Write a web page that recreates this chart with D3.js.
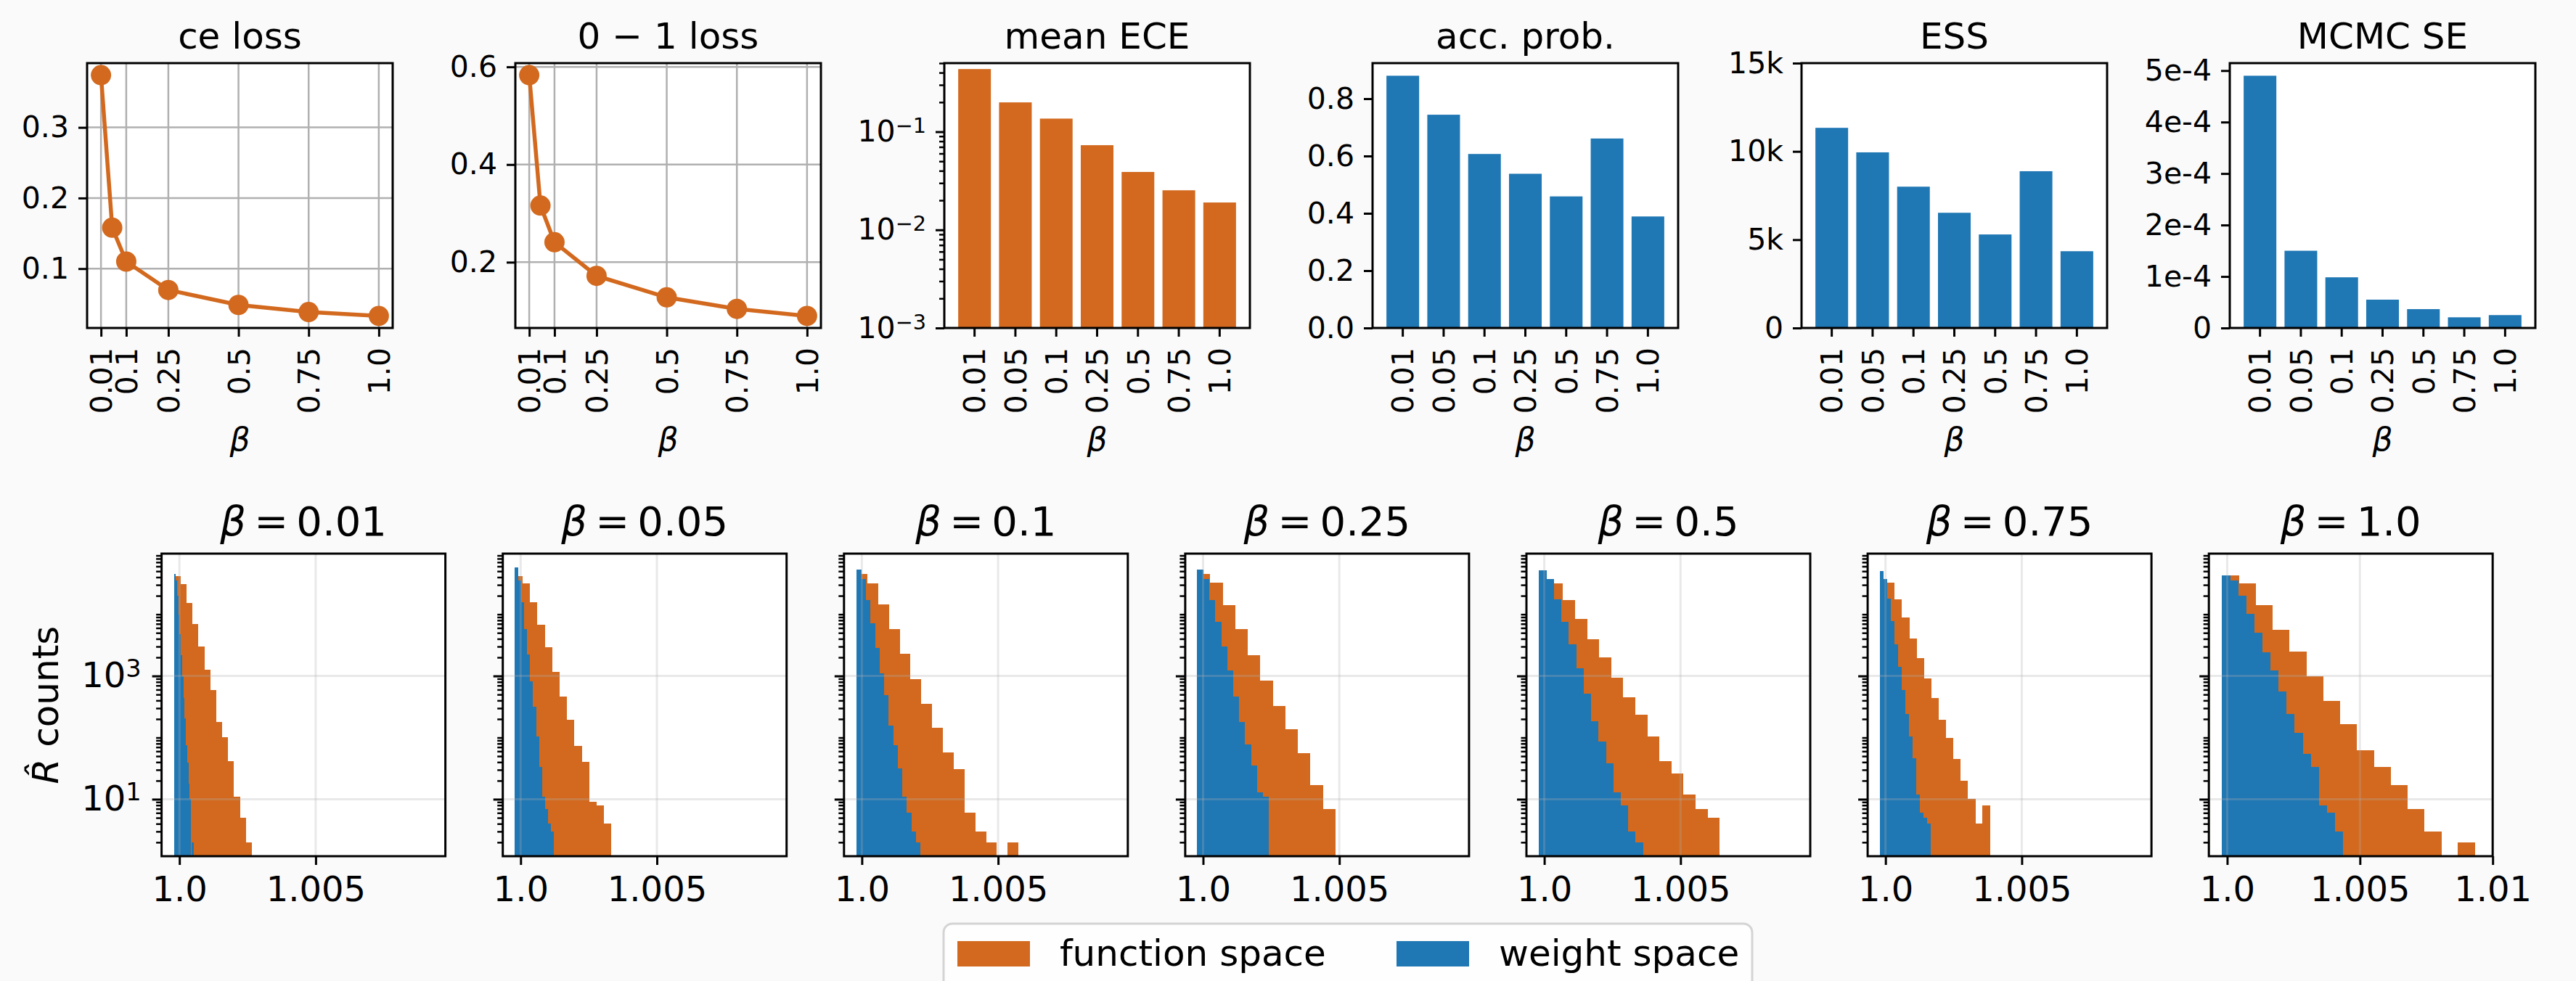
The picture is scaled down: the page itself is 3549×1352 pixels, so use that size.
<!DOCTYPE html>
<html>
<head>
<meta charset="utf-8">
<script src="https://cdn.jsdelivr.net/npm/d3@7"></script>
<style>
  body { margin: 0; background: #fafafa; }
  text { font-family: "DejaVu Sans", sans-serif; fill: #000; }
</style>
</head>
<body>
<div id="chart"></div>
<script>
// beta values
var betaLabels = ["0.01", "0.05", "0.1", "0.25", "0.5", "0.75", "1.0"];
var betaValues = [0.01, 0.05, 0.1, 0.25, 0.5, 0.75, 1.0];
var lineTickValues = [0.01, 0.1, 0.25, 0.5, 0.75, 1.0];
var lineTickLabels = ["0.01", "0.1", "0.25", "0.5", "0.75", "1.0"];

// top row metrics
var ceLoss = [0.374, 0.158, 0.110, 0.0697, 0.0486, 0.0385, 0.033];
var zeroOneLoss = [0.583, 0.316, 0.241, 0.172, 0.128, 0.1045, 0.090];
var meanECE = [0.435, 0.199, 0.136, 0.0729, 0.0389, 0.0253, 0.019];
var accProb = [0.880, 0.744, 0.607, 0.538, 0.459, 0.661, 0.389];
var ess = [11335, 9947, 8003, 6524, 5296, 8878, 4347];
var mcmcSE = [4.90e-4, 1.50e-4, 0.984e-4, 0.55e-4, 0.366e-4, 0.207e-4, 0.25e-4];

var essTicks = [0, 5000, 10000, 15000];
var essTickLabels = ["0", "5k", "10k", "15k"];
var seTicks = [0, 1e-4, 2e-4, 3e-4, 4e-4, 5e-4];
var seTickLabels = ["0", "1e-4", "2e-4", "3e-4", "4e-4", "5e-4"];

// R-hat histograms: first/last bin edge and counts of equal-width bins
var fsRange = [[0.999813, 1.002645], [0.999786, 1.003318], [0.999794, 1.005734], [0.999786, 1.004847],
               [0.999792, 1.006422], [0.999786, 1.003823], [0.999794, 1.009325]];
var fsCounts = [
  [41300, 30600, 15100, 6900, 2980, 1250, 588, 178, 101, 42, 11, 5, 2],
  [41300, 31500, 15600, 6720, 2900, 1155, 460, 193, 73, 40, 9, 8, 4],
  [44800, 31500, 14400, 5710, 2280, 881, 351, 144, 57, 31, 6, 3, 2, 0, 2],
  [44800, 32400, 13970, 5710, 2150, 835, 324, 136, 56, 17, 7],
  [35000, 31500, 16900, 8350, 3910, 1990, 931, 448, 234, 104, 41, 26, 12, 7, 5],
  [35000, 32400, 17300, 8810, 4020, 1930, 906, 436, 193, 98, 45, 20, 10, 4, 8],
  [42800, 32000, 14200, 5640, 2510, 1000, 390, 163, 63, 33, 17, 7, 3, 0, 2]
];
var wsRange = [[0.999801, 1.000505], [0.999786, 1.001208], [0.999801, 1.002141], [0.999786, 1.0024],
               [0.999801, 1.003609], [0.999786, 1.001651], [0.999794, 1.004353]];
var wsCounts = [
  [44800, 35700, 19900, 9800, 4810, 2150, 991, 440, 204, 75, 39, 18, 10, 1, 2],
  [57100, 35700, 15600, 5710, 2210, 813, 315, 104, 33, 11, 7, 4, 3],
  [52700, 37000, 16900, 7100, 2820, 1095, 486, 156, 75, 32, 11, 6, 3, 2],
  [52700, 37000, 16900, 7500, 2980, 1220, 460, 178, 77, 35, 13, 11],
  [51300, 37000, 17300, 7500, 3240, 1323, 513, 183, 86, 38, 13, 8, 3, 2],
  [49900, 37000, 17800, 7690, 3240, 1396, 588, 240, 104, 46, 12, 6, 5, 4],
  [42800, 35600, 20100, 10200, 5020, 2390, 1217, 554, 240, 120, 55, 33, 8, 6, 3]
];
var histXLim = [[0.999345, 1.00976], [0.999345, 1.00976], [0.999345, 1.00976], [0.999345, 1.00976],
                [0.999345, 1.00976], [0.999345, 1.00976], [0.99931, 1.0100]];
var histXTicks = [[1.0, 1.005], [1.0, 1.005], [1.0, 1.005], [1.0, 1.005], [1.0, 1.005], [1.0, 1.005], [1.0, 1.005, 1.01]];
var histXTickLabels = ["1.0", "1.005", "1.01"];
var histYLim = [1.19, 96400];

var W = 3549, H = 1352;
var orange = "#d2691e", blue = "#1f77b4";
var tickFont = 41, histFont = 48;

var svg = d3.select("#chart").append("svg").attr("width", W).attr("height", H);
svg.append("rect").attr("width", W).attr("height", H).attr("fill", "#fafafa");

// layout
var topW = 421, topH = 365, topY = 87;
var topX = [120, 710, 1301, 1891, 2482, 3072];
var botW = 391, botH = 417, botY = 763;
var botX = [222.6, 692.7, 1162.8, 1632.9, 2103, 2573.1, 3043.2];

function padded(ext) {
  var m = (ext[1] - ext[0]) * 0.05;
  return [ext[0] - m, ext[1] + m];
}

function styleAxis(ax, size, width) {
  ax.select(".domain").remove();
  ax.selectAll(".tick line").attr("stroke", "#000").attr("stroke-width", width || 3);
  ax.selectAll(".tick text").attr("font-size", size).attr("fill", "#000")
    .style("font-family", '"DejaVu Sans"');
}

function panel(x, y, w, h) {
  var g = svg.append("g").attr("transform", "translate(" + x + "," + y + ")");
  g.append("rect").attr("width", w).attr("height", h).attr("fill", "#fff");
  return g;
}

function frame(g, w, h) {
  g.append("rect").attr("width", w).attr("height", h).attr("fill", "none")
    .attr("stroke", "#000").attr("stroke-width", 3);
}

function topDecor(g, title) {
  g.append("text").attr("x", topW / 2).attr("y", -20).attr("text-anchor", "middle")
    .attr("font-size", 50).text(title);
  g.append("text").attr("x", topW / 2).attr("y", 621 - topY).attr("text-anchor", "middle")
    .attr("font-size", 44).attr("font-style", "italic").text("β");
}

function rotateXLabels(ax) {
  ax.selectAll(".tick text")
    .attr("y", null).attr("x", -27).attr("dy", "0.36em")
    .attr("transform", "rotate(-90)").attr("text-anchor", "end");
}

function superLabels(ax, base) {
  ax.selectAll(".tick text").each(function(d) {
    var e = Math.round(Math.log10(d));
    var t = d3.select(this).text(base);
    t.append("tspan").attr("dy", "-0.42em").attr("font-size", "0.7em")
      .text(e < 0 ? "\u2212" + (-e) : e);
  });
}

// line panels
function linePanel(i, title, values, yTicks) {
  var g = panel(topX[i], topY, topW, topH);
  var x = d3.scaleLinear().domain(padded(d3.extent(betaValues))).range([0, topW]);
  var y = d3.scaleLinear().domain(padded(d3.extent(values))).range([topH, 0]);

  g.append("g").selectAll("line").data(lineTickValues).enter().append("line")
    .attr("x1", function(d) { return x(d); }).attr("x2", function(d) { return x(d); })
    .attr("y1", 0).attr("y2", topH)
    .attr("stroke", "#b0b0b0").attr("stroke-width", 2.5);
  g.append("g").selectAll("line").data(yTicks).enter().append("line")
    .attr("y1", function(d) { return y(d); }).attr("y2", function(d) { return y(d); })
    .attr("x1", 0).attr("x2", topW)
    .attr("stroke", "#b0b0b0").attr("stroke-width", 2.5);

  var line = d3.line()
    .x(function(d, j) { return x(betaValues[j]); })
    .y(function(d) { return y(d); });
  g.append("path").datum(values).attr("d", line)
    .attr("fill", "none").attr("stroke", orange).attr("stroke-width", 5.5);
  g.selectAll("circle").data(values).enter().append("circle")
    .attr("cx", function(d, j) { return x(betaValues[j]); })
    .attr("cy", function(d) { return y(d); })
    .attr("r", 14).attr("fill", orange);

  var ay = g.append("g").call(d3.axisLeft(y).tickValues(yTicks).tickSize(12).tickPadding(13)
    .tickFormat(d3.format(".1f")));
  styleAxis(ay, tickFont);
  var ax = g.append("g").attr("transform", "translate(0," + topH + ")")
    .call(d3.axisBottom(x).tickValues(lineTickValues).tickSize(12)
      .tickFormat(function(d, j) { return lineTickLabels[j]; }));
  styleAxis(ax, tickFont);
  rotateXLabels(ax);
  frame(g, topW, topH);
  topDecor(g, title);
  return g;
}

// bar panels
function barPanel(i, title, values, color, y) {
  var g = panel(topX[i], topY, topW, topH);
  var x = d3.scaleBand().domain(betaLabels).range([0, topW]).paddingInner(0.2).paddingOuter(0.34);
  g.selectAll("rect.bar").data(values).enter().append("rect")
    .attr("class", "bar")
    .attr("x", function(d, j) { return x(betaLabels[j]); })
    .attr("width", x.bandwidth())
    .attr("y", function(d) { return y(d); })
    .attr("height", function(d) { return topH - y(d); })
    .attr("fill", color);
  var ax = g.append("g").attr("transform", "translate(0," + topH + ")")
    .call(d3.axisBottom(x).tickSize(12));
  styleAxis(ax, tickFont);
  rotateXLabels(ax);
  frame(g, topW, topH);
  topDecor(g, title);
  return g;
}

linePanel(0, "ce loss", ceLoss, [0.1, 0.2, 0.3]);
linePanel(1, "0 \u2212 1 loss", zeroOneLoss, [0.2, 0.4, 0.6]);

// mean ECE (log scale)
var yEce = d3.scaleLog().domain([1e-3, 0.5]).range([topH, 0]);
var gEce = barPanel(2, "mean ECE", meanECE, orange, yEce);
var eceMinor = [];
[1e-3, 1e-2, 1e-1].forEach(function(b) {
  d3.range(2, 10).forEach(function(k) { if (b * k <= 0.5) eceMinor.push(b * k); });
});
var aEm = gEce.append("g").call(d3.axisLeft(yEce).tickValues(eceMinor).tickSize(7).tickFormat(""));
styleAxis(aEm, tickFont, 2.5);
var aE = gEce.append("g").call(d3.axisLeft(yEce).tickValues([1e-3, 1e-2, 1e-1]).tickSize(12).tickPadding(13));
styleAxis(aE, tickFont);
superLabels(aE, "10");

// acceptance probability
var yAcc = d3.scaleLinear().domain([0, d3.max(accProb) * 1.05]).range([topH, 0]);
var gAcc = barPanel(3, "acc. prob.", accProb, blue, yAcc);
var aA = gAcc.append("g").call(d3.axisLeft(yAcc).tickValues([0, 0.2, 0.4, 0.6, 0.8]).tickSize(12).tickPadding(13)
  .tickFormat(d3.format(".1f")));
styleAxis(aA, tickFont);

// ESS
var yEss = d3.scaleLinear().domain([0, 15000]).range([topH, 0]);
var gEss = barPanel(4, "ESS", ess, blue, yEss);
var aS = gEss.append("g").call(d3.axisLeft(yEss).tickValues(essTicks).tickSize(12).tickPadding(13)
  .tickFormat(function(d, j) { return essTickLabels[j]; }));
styleAxis(aS, tickFont);

// MCMC SE
var ySe = d3.scaleLinear().domain([0, d3.max(mcmcSE) * 1.05]).range([topH, 0]);
var gSe = barPanel(5, "MCMC SE", mcmcSE, blue, ySe);
var aM = gSe.append("g").call(d3.axisLeft(ySe).tickValues(seTicks).tickSize(12).tickPadding(13)
  .tickFormat(function(d, j) { return seTickLabels[j]; }));
styleAxis(aM, tickFont);

// R-hat histograms
var histMinor = [];
[1, 10, 100, 1000, 10000].forEach(function(b) {
  d3.range(1, 10).forEach(function(k) {
    var v = b * k;
    if (v >= histYLim[0] && v <= histYLim[1] && v !== 10 && v !== 1000) histMinor.push(v);
  });
});

function histPanel(i) {
  var g = panel(botX[i], botY, botW, botH);
  var x = d3.scaleLinear().domain(histXLim[i]).range([0, botW]);
  var y = d3.scaleLog().domain(histYLim).range([botH, 0]);

  [[fsRange[i], fsCounts[i], orange], [wsRange[i], wsCounts[i], blue]].forEach(function(s) {
    var lo = s[0][0], hi = s[0][1], n = s[1].length, step = (hi - lo) / n;
    var bins = s[1].map(function(c, j) { return { x0: lo + j * step, x1: lo + (j + 1) * step, c: c }; })
      .filter(function(b) { return b.c > histYLim[0]; });
    g.append("g").attr("shape-rendering", "crispEdges")
      .selectAll("rect").data(bins).enter().append("rect")
      .attr("x", function(b) { return x(b.x0); })
      .attr("width", function(b) { return x(b.x1) - x(b.x0) + 0.5; })
      .attr("y", function(b) { return y(b.c); })
      .attr("height", function(b) { return botH - y(b.c); })
      .attr("fill", s[2]);
  });

  // light grid on top of bars
  var grid = g.append("g").attr("stroke", "#b0b0b0").attr("stroke-opacity", 0.28).attr("stroke-width", 3);
  grid.selectAll("line.v").data(histXTicks[i]).enter().append("line")
    .attr("x1", function(d) { return x(d); }).attr("x2", function(d) { return x(d); })
    .attr("y1", 0).attr("y2", botH);
  grid.selectAll("line.h").data([10, 1000]).enter().append("line")
    .attr("y1", function(d) { return y(d); }).attr("y2", function(d) { return y(d); })
    .attr("x1", 0).attr("x2", botW);

  var am = g.append("g").call(d3.axisLeft(y).tickValues(histMinor).tickSize(7.5).tickFormat(""));
  styleAxis(am, histFont, 2.5);
  var ay = g.append("g").call(d3.axisLeft(y).tickValues([10, 1000]).tickSize(13).tickPadding(15));
  styleAxis(ay, histFont);
  if (i === 0) superLabels(ay, "10");
  else ay.selectAll(".tick text").remove();

  var ax = g.append("g").attr("transform", "translate(0," + botH + ")")
    .call(d3.axisBottom(x).tickValues(histXTicks[i]).tickSize(12).tickPadding(16)
      .tickFormat(function(d, j) { return histXTickLabels[j]; }));
  styleAxis(ax, histFont);
  frame(g, botW, botH);

  var t = g.append("text").attr("x", botW / 2).attr("y", -25).attr("text-anchor", "middle")
    .attr("font-size", 56);
  t.append("tspan").attr("font-style", "italic").text("β");
  t.append("tspan").text("\u2009=\u2009" + betaLabels[i]);

  if (i === 0) {
    var yl = g.append("text").attr("transform", "translate(" + (80 - botX[0]) + "," + (botH / 2) + ") rotate(-90)")
      .attr("text-anchor", "middle").attr("font-size", 50);
    yl.append("tspan").attr("font-style", "italic").text("R\u0302");
    yl.append("tspan").text(" counts");
  }
}

d3.range(7).forEach(histPanel);

// legend
var leg = svg.append("g").attr("transform", "translate(1300,1273)");
leg.append("rect").attr("width", 1114).attr("height", 140).attr("rx", 12)
  .attr("fill", "#fff").attr("fill-opacity", 0.8).attr("stroke", "#d4d4d4").attr("stroke-width", 3);
var legItems = [["function space", orange, 19], ["weight space", blue, 624]];
legItems.forEach(function(it) {
  leg.append("rect").attr("x", it[2]).attr("y", 24).attr("width", 100).attr("height", 35).attr("fill", it[1]);
  leg.append("text").attr("x", it[2] + 141).attr("y", 58).attr("font-size", 50).text(it[0]);
});
</script>
</body>
</html>
